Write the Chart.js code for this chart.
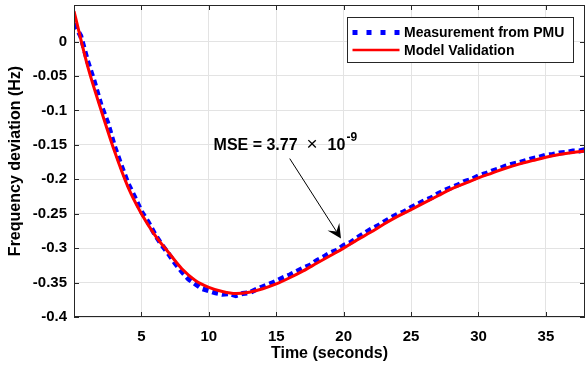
<!DOCTYPE html>
<html>
<head>
<meta charset="utf-8">
<title>Frequency deviation</title>
<script src="https://cdn.jsdelivr.net/npm/chart.js@4.4.0/dist/chart.umd.min.js"></script>
<style>
  html, body { margin: 0; padding: 0; background: #fff; }
  canvas { display: block; }
</style>
</head>
<body>
<canvas id="chart" width="586" height="369"></canvas>
<script>
// Model validation (red), every second
const modelTime = [0, 1, 2, 3, 4, 5, 6, 7, 8, 9, 10, 11, 12, 13, 14, 15, 16, 17, 18, 19,
  20, 21, 22, 23, 24, 25, 26, 27, 28, 29, 30, 31, 32, 33, 34, 35, 36, 37, 37.9];
const modelValues = [0.044, -0.035, -0.099, -0.159, -0.211, -0.250, -0.281, -0.306, -0.330, -0.347,
  -0.357, -0.363, -0.366, -0.364, -0.359, -0.352, -0.343, -0.333, -0.322, -0.311,
  -0.300, -0.288, -0.277, -0.265, -0.254, -0.244, -0.234, -0.224, -0.214, -0.206,
  -0.198, -0.191, -0.184, -0.178, -0.173, -0.168, -0.164, -0.161, -0.159];

// PMU measurement (blue), read every half second
const pmuTime = [0, 0.5, 1, 1.5, 2, 2.5, 3, 3.5, 4, 4.5, 5, 5.5, 6, 6.5, 7, 7.5, 8, 8.5, 9, 9.5,
  10, 10.5, 11, 11.5, 12, 12.5, 13, 13.5, 14, 14.5, 15, 15.5, 16, 16.5, 17, 17.5, 18, 18.5, 19, 19.5,
  20, 20.5, 21, 21.5, 22, 22.5, 23, 23.5, 24, 24.5, 25, 25.5, 26, 26.5, 27, 27.5, 28, 28.5, 29, 29.5,
  30, 30.5, 31, 31.5, 32, 32.5, 33, 33.5, 34, 34.5, 35, 35.5, 36, 36.5, 37, 37.5, 37.9];
const pmuValues = [0.026, 0.008, -0.028, -0.058, -0.092, -0.118, -0.152, -0.180, -0.206, -0.226,
  -0.247, -0.262, -0.280, -0.295, -0.308, -0.322, -0.334, -0.345, -0.352, -0.359,
  -0.362, -0.365, -0.367, -0.366, -0.369, -0.366, -0.365, -0.360, -0.356, -0.352,
  -0.348, -0.343, -0.339, -0.334, -0.329, -0.325, -0.318, -0.313, -0.307, -0.303,
  -0.296, -0.292, -0.285, -0.279, -0.273, -0.268, -0.262, -0.256, -0.251, -0.247,
  -0.241, -0.236, -0.231, -0.227, -0.221, -0.216, -0.212, -0.208, -0.203, -0.200,
  -0.195, -0.192, -0.188, -0.185, -0.181, -0.178, -0.176, -0.173, -0.170, -0.168,
  -0.165, -0.164, -0.162, -0.161, -0.159, -0.159, -0.157];

const seriesNames = ['Measurement from PMU', 'Model Validation'];
const xTicks = [5, 10, 15, 20, 25, 30, 35];
const yTicks = [-0.4, -0.35, -0.3, -0.25, -0.2, -0.15, -0.1, -0.05, 0];

const FONT = '"Liberation Sans", Arial, sans-serif';
const AXIS_COLOR = '#262626';

// annotation: text anchor and arrow in data units
const mseText = { x: 10.35, y: -0.158 };
const arrowFrom = { x: 16.0, y: -0.170 };
const arrowTo = { x: 19.8, y: -0.286 };

function toPoints(xs, ys) {
  return xs.map((x, i) => ({ x: x, y: ys[i] }));
}

const framePlugin = {
  id: 'frame',
  afterDatasetsDraw(chart) {
    const ctx = chart.ctx;
    const a = chart.chartArea;
    const xs = chart.scales.x, ys = chart.scales.y;
    ctx.save();

    // box
    ctx.strokeStyle = AXIS_COLOR;
    ctx.lineWidth = 1;
    ctx.strokeRect(a.left + 0.5, a.top + 0.5, a.right - a.left - 1, a.bottom - a.top - 1);

    // inward ticks on all sides
    ctx.beginPath();
    xTicks.forEach(v => {
      const px = Math.round(xs.getPixelForValue(v)) + 0.5;
      ctx.moveTo(px, a.bottom); ctx.lineTo(px, a.bottom - 5);
      ctx.moveTo(px, a.top); ctx.lineTo(px, a.top + 5);
    });
    yTicks.forEach(v => {
      const py = Math.round(ys.getPixelForValue(v)) + 0.5;
      ctx.moveTo(a.left, py); ctx.lineTo(a.left + 5, py);
      ctx.moveTo(a.right, py); ctx.lineTo(a.right - 5, py);
    });
    ctx.stroke();

    // MSE text
    ctx.fillStyle = '#000';
    ctx.textBaseline = 'alphabetic';
    ctx.textAlign = 'left';
    const tx = xs.getPixelForValue(mseText.x);
    const ty = ys.getPixelForValue(mseText.y);
    ctx.font = 'bold 16px ' + FONT;
    ctx.fillText('MSE = 3.77', tx, ty);
    ctx.font = '19px ' + FONT;
    ctx.fillText('\u00d7', tx + 93, ty);
    ctx.font = 'bold 16px ' + FONT;
    ctx.fillText('10', tx + 114, ty);
    ctx.font = 'bold 12px ' + FONT;
    ctx.fillText('-9', tx + 133, ty - 9);

    // arrow
    const x0 = xs.getPixelForValue(arrowFrom.x), y0 = ys.getPixelForValue(arrowFrom.y);
    const x1 = xs.getPixelForValue(arrowTo.x), y1 = ys.getPixelForValue(arrowTo.y);
    const ang = Math.atan2(y1 - y0, x1 - x0);
    const hl = 14, hw = 7;
    const c = Math.cos(ang), s = Math.sin(ang);
    ctx.strokeStyle = '#000';
    ctx.lineWidth = 1;
    ctx.beginPath();
    ctx.moveTo(x0, y0);
    ctx.lineTo(x1 - c * hl * 0.6, y1 - s * hl * 0.6);
    ctx.stroke();
    ctx.beginPath();
    ctx.moveTo(x1, y1);
    ctx.lineTo(x1 - c * hl - s * hw, y1 - s * hl + c * hw);
    ctx.lineTo(x1 - c * hl * 0.6, y1 - s * hl * 0.6);
    ctx.lineTo(x1 - c * hl + s * hw, y1 - s * hl - c * hw);
    ctx.closePath();
    ctx.fill();

    // legend
    const lx = 347, ly = 17, lw = 226, lh = 45;
    ctx.fillStyle = '#fff';
    ctx.fillRect(lx, ly, lw, lh);
    ctx.strokeStyle = AXIS_COLOR;
    ctx.strokeRect(lx + 0.5, ly + 0.5, lw, lh);
    const rows = [ly + 15.5, ly + 33];
    ctx.strokeStyle = '#0000ff';
    ctx.lineWidth = 5;
    ctx.setLineDash([5, 9]);
    ctx.beginPath();
    ctx.moveTo(352.5, rows[0]); ctx.lineTo(400, rows[0]);
    ctx.stroke();
    ctx.setLineDash([]);
    ctx.strokeStyle = '#ff0000';
    ctx.lineWidth = 2.5;
    ctx.beginPath();
    ctx.moveTo(352.5, rows[1]); ctx.lineTo(399.5, rows[1]);
    ctx.stroke();
    ctx.fillStyle = '#000';
    ctx.font = 'bold 14px ' + FONT;
    ctx.textBaseline = 'middle';
    ctx.fillText(seriesNames[0], 404, rows[0] + 1);
    ctx.fillText(seriesNames[1], 404, rows[1] + 1);

    // axis titles
    ctx.font = 'bold 16px ' + FONT;
    ctx.textAlign = 'center';
    ctx.fillText('Time (seconds)', (a.left + a.right) / 2, 354);
    ctx.translate(16, (a.top + a.bottom) / 2);
    ctx.rotate(-Math.PI / 2);
    ctx.fillText('Frequency deviation (Hz)', 0, 0);
    ctx.restore();
  }
};

new Chart(document.getElementById('chart'), {
  type: 'line',
  data: {
    datasets: [
      {
        label: seriesNames[1],
        data: toPoints(modelTime, modelValues),
        borderColor: '#ff0000',
        borderWidth: 3,
        pointRadius: 0,
        cubicInterpolationMode: 'monotone',
        order: 0
      },
      {
        label: seriesNames[0],
        data: toPoints(pmuTime, pmuValues),
        borderColor: '#0000ff',
        borderWidth: 5,
        borderDash: [6, 4],
        pointRadius: 0,
        tension: 0,
        order: 1
      }
    ]
  },
  options: {
    responsive: false,
    animation: false,
    devicePixelRatio: 1,
    layout: { padding: { left: 0, top: 5, right: 1, bottom: 0 } },
    plugins: { legend: { display: false }, tooltip: { enabled: false } },
    scales: {
      x: {
        type: 'linear',
        min: 0,
        max: 37.9,
        afterFit: s => { s.height = 52; s.paddingLeft = 0; s.paddingRight = 0; },
        afterBuildTicks: s => { s.ticks = xTicks.map(v => ({ value: v })); },
        grid: { color: '#e3e3e3', drawTicks: false },
        border: { display: false },
        ticks: {
          padding: 11,
          color: '#000',
          font: { family: FONT, size: 15, weight: 'bold' },
          maxRotation: 0
        }
      },
      y: {
        min: -0.4,
        max: 0.053,
        afterFit: s => { s.width = 74; s.paddingTop = 0; s.paddingBottom = 0; },
        afterBuildTicks: s => { s.ticks = yTicks.map(v => ({ value: v })); },
        grid: { color: '#e3e3e3', drawTicks: false },
        border: { display: false },
        ticks: {
          padding: 7,
          color: '#000',
          font: { family: FONT, size: 15, weight: 'bold' },
          callback: v => String(Math.round(v * 100) / 100)
        }
      }
    }
  },
  plugins: [framePlugin]
});
</script>
</body>
</html>
